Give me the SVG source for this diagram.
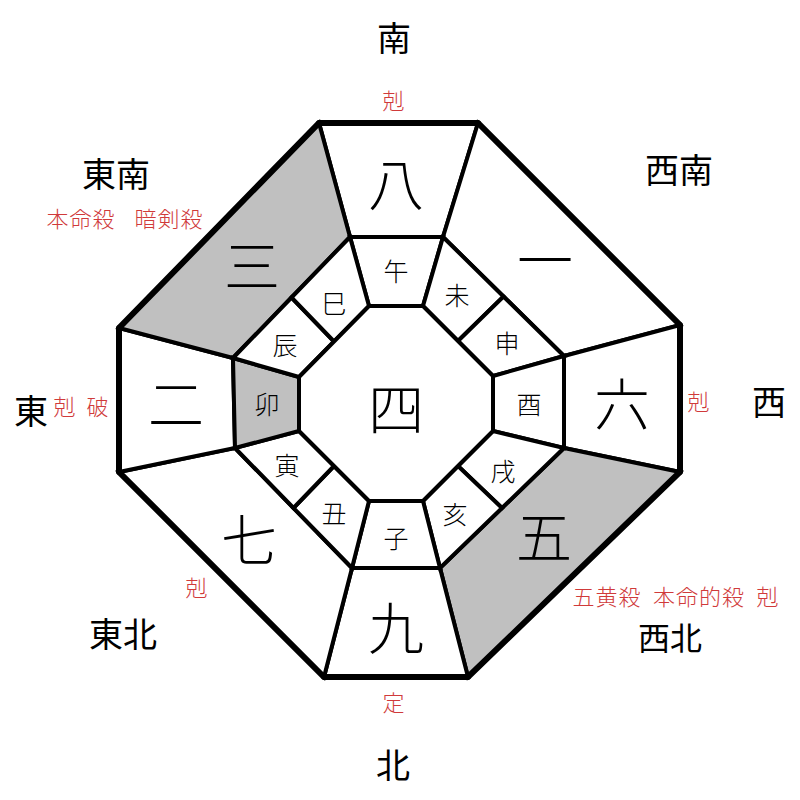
<svg xmlns="http://www.w3.org/2000/svg" width="800" height="800" viewBox="0 0 800 800">
<style>
.cell{fill:#ffffff;stroke:#000;stroke-width:4;stroke-linejoin:miter}
.gray{fill:#c0c0c0}
.outer{fill:none;stroke:#000;stroke-width:6;stroke-linejoin:miter}
text{font-family:"Noto Sans CJK JP","Noto Sans CJK SC",sans-serif;text-anchor:middle;dominant-baseline:central}
.num{font-size:56px;font-weight:300;fill:#000}
.br{font-size:25px;font-weight:300;fill:#000}
.dir{font-size:34px;font-weight:400;fill:#000}
.red{font-size:22px;font-weight:300;fill:#d03a3a;letter-spacing:1px}
</style>
<rect width="800" height="800" fill="#ffffff"/>
<g id="sectors">
<g id="s-south"><polygon class="cell" points="319,123 478,123 443,237 350,237"/><text class="num" x="396" y="180">八</text></g>
<g id="s-southwest"><polygon class="cell" points="478,123 680,325 564,356 443,237"/><text class="num" x="545" y="256">一</text></g>
<g id="s-west"><polygon class="cell" points="680,325 680,472 564,448 564,356"/><text class="num" x="622" y="400">六</text></g>
<g id="s-northwest"><polygon class="cell gray" points="680,472 468,677 440,568 564,448"/><text class="num" x="544" y="533">五</text></g>
<g id="s-north"><polygon class="cell" points="468,677 324,677 352,568 440,568"/><text class="num" x="396" y="624">九</text></g>
<g id="s-northeast"><polygon class="cell" points="324,677 119,472 235,448 352,568"/><text class="num" x="249" y="536">七</text></g>
<g id="s-east"><polygon class="cell" points="119,472 119,328 233,358 235,448"/><text class="num" x="176" y="400">二</text></g>
<g id="s-southeast"><polygon class="cell gray" points="119,328 319,123 350,237 233,358"/><text class="num" x="252" y="262">三</text></g>
</g>
<g id="branches">
<g id="b-uma"><polygon class="cell" points="350,237 443,237 423,306 369,306"/><text class="br" x="396" y="270">午</text></g>
<g id="b-hitsuji"><polygon class="cell" points="443,237 503.5,296.5 458,341 423,306"/><text class="br" x="457" y="294">未</text></g>
<g id="b-saru"><polygon class="cell" points="503.5,296.5 564,356 493,376 458,341"/><text class="br" x="507" y="342">申</text></g>
<g id="b-tori"><polygon class="cell" points="564,356 564,448 493,431 493,376"/><text class="br" x="529" y="403">酉</text></g>
<g id="b-inu"><polygon class="cell" points="564,448 502,508 458,466 493,431"/><text class="br" x="503" y="470">戌</text></g>
<g id="b-i"><polygon class="cell" points="502,508 440,568 423,501 458,466"/><text class="br" x="455" y="513">亥</text></g>
<g id="b-ne"><polygon class="cell" points="440,568 352,568 369,501 423,501"/><text class="br" x="396" y="537">子</text></g>
<g id="b-ushi"><polygon class="cell" points="352,568 293.5,508 334,466 369,501"/><text class="br" x="334" y="512">丑</text></g>
<g id="b-tora"><polygon class="cell" points="293.5,508 235,448 299,431 334,466"/><text class="br" x="287" y="464">寅</text></g>
<g id="b-u"><polygon class="cell gray" points="235,448 233,358 299,377 299,431"/><text class="br" x="267" y="403" fill="#333">卯</text></g>
<g id="b-tatsu"><polygon class="cell" points="233,358 291.5,297.5 334,341.5 299,377"/><text class="br" x="285" y="344">辰</text></g>
<g id="b-mi"><polygon class="cell" points="291.5,297.5 350,237 369,306 334,341.5"/><text class="br" x="334" y="302">巳</text></g>
</g>
<g id="center"><polygon class="cell" points="369,306 423,306 493,376 493,431 423,501 369,501 299,431 299,377"/><text class="num" x="396" y="405">四</text></g>
<polygon class="outer" points="319,123 478,123 680,325 680,472 468,677 324,677 119,472 119,328"/>
<g id="labels">
<text class="dir" x="394" y="36">南</text>
<text class="red" x="394" y="99">剋</text>
<text class="dir" x="116" y="172">東南</text>
<text class="red" x="81" y="217">本命殺</text>
<text class="red" x="169" y="217">暗剣殺</text>
<text class="dir" x="679" y="168">西南</text>
<text class="dir" x="31" y="409">東</text>
<text class="red" x="65" y="405">剋</text>
<text class="red" x="98" y="405">破</text>
<text class="red" x="699" y="400">剋</text>
<text class="dir" x="769" y="400">西</text>
<text class="red" x="197" y="586">剋</text>
<text class="dir" x="123" y="632">東北</text>
<text class="red" x="607" y="595">五黄殺</text>
<text class="red" x="699" y="595">本命的殺</text>
<text class="red" x="768" y="595">剋</text>
<text class="dir" x="670" y="636" style="font-size:32px">西北</text>
<text class="red" x="394" y="701">定</text>
<text class="dir" x="393" y="763">北</text>
</g>
</svg>
